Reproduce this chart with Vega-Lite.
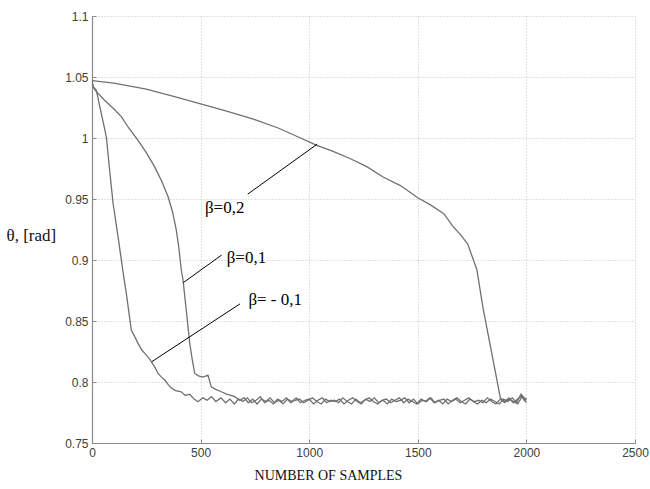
{
  "$schema": "https://vega.github.io/schema/vega-lite/v6.json",
  "autosize": "none",
  "width": 543,
  "height": 427,
  "padding": {"left": 92, "top": 16, "right": 15, "bottom": 46},
  "background": "white",
  "config": {
    "view": {"stroke": null},
    "axis": {
      "labelFont": "Liberation Sans",
      "labelFontSize": 12,
      "labelColor": "#404040",
      "labelFlush": false,
      "domainColor": "#8a8a8a",
      "domainWidth": 1.2,
      "tickColor": "#8a8a8a",
      "gridColor": "#c4c4c4",
      "gridDash": [1, 2],
      "gridWidth": 1,
      "titleFont": "Liberation Serif",
      "titleFontWeight": "normal",
      "titleColor": "#111111"
    }
  },
  "datasets": {
    "curves": [
      {"s": "b02", "x": 0, "y": 1.047},
      {"s": "b02", "x": 100, "y": 1.045},
      {"s": "b02", "x": 250, "y": 1.040},
      {"s": "b02", "x": 380, "y": 1.034},
      {"s": "b02", "x": 500, "y": 1.028},
      {"s": "b02", "x": 620, "y": 1.022},
      {"s": "b02", "x": 750, "y": 1.015},
      {"s": "b02", "x": 860, "y": 1.008},
      {"s": "b02", "x": 960, "y": 1.000},
      {"s": "b02", "x": 1035, "y": 0.994},
      {"s": "b02", "x": 1110, "y": 0.989},
      {"s": "b02", "x": 1190, "y": 0.983},
      {"s": "b02", "x": 1265, "y": 0.9765},
      {"s": "b02", "x": 1340, "y": 0.968},
      {"s": "b02", "x": 1420, "y": 0.961},
      {"s": "b02", "x": 1500, "y": 0.951},
      {"s": "b02", "x": 1560, "y": 0.945},
      {"s": "b02", "x": 1620, "y": 0.938},
      {"s": "b02", "x": 1660, "y": 0.928},
      {"s": "b02", "x": 1700, "y": 0.920},
      {"s": "b02", "x": 1730, "y": 0.913},
      {"s": "b02", "x": 1772, "y": 0.892},
      {"s": "b02", "x": 1800, "y": 0.861},
      {"s": "b02", "x": 1840, "y": 0.824},
      {"s": "b02", "x": 1880, "y": 0.787},
      {"s": "b02", "x": 1900, "y": 0.784},
      {"s": "b02", "x": 1920, "y": 0.787},
      {"s": "b02", "x": 1940, "y": 0.783},
      {"s": "b02", "x": 1960, "y": 0.786},
      {"s": "b02", "x": 1980, "y": 0.789},
      {"s": "b02", "x": 2000, "y": 0.785},

      {"s": "b01", "x": 0, "y": 1.047},
      {"s": "b01", "x": 5, "y": 1.042},
      {"s": "b01", "x": 15, "y": 1.039},
      {"s": "b01", "x": 58, "y": 1.031},
      {"s": "b01", "x": 100, "y": 1.024},
      {"s": "b01", "x": 135, "y": 1.0175},
      {"s": "b01", "x": 170, "y": 1.008},
      {"s": "b01", "x": 212, "y": 0.998},
      {"s": "b01", "x": 250, "y": 0.988},
      {"s": "b01", "x": 288, "y": 0.9765},
      {"s": "b01", "x": 320, "y": 0.965},
      {"s": "b01", "x": 350, "y": 0.952},
      {"s": "b01", "x": 370, "y": 0.940},
      {"s": "b01", "x": 388, "y": 0.9246},
      {"s": "b01", "x": 400, "y": 0.910},
      {"s": "b01", "x": 411, "y": 0.892},
      {"s": "b01", "x": 419, "y": 0.8836},
      {"s": "b01", "x": 434, "y": 0.859},
      {"s": "b01", "x": 450, "y": 0.8317},
      {"s": "b01", "x": 462, "y": 0.818},
      {"s": "b01", "x": 473, "y": 0.807},
      {"s": "b01", "x": 490, "y": 0.805},
      {"s": "b01", "x": 511, "y": 0.804},
      {"s": "b01", "x": 534, "y": 0.8057},
      {"s": "b01", "x": 549, "y": 0.796},
      {"s": "b01", "x": 570, "y": 0.794},
      {"s": "b01", "x": 595, "y": 0.792},
      {"s": "b01", "x": 620, "y": 0.790},
      {"s": "b01", "x": 657, "y": 0.788},
      {"s": "b01", "x": 680, "y": 0.785},
      {"s": "b01", "x": 700, "y": 0.787},
      {"s": "b01", "x": 720, "y": 0.783},
      {"s": "b01", "x": 740, "y": 0.786},
      {"s": "b01", "x": 760, "y": 0.782},
      {"s": "b01", "x": 780, "y": 0.786},
      {"s": "b01", "x": 800, "y": 0.784},
      {"s": "b01", "x": 820, "y": 0.787},
      {"s": "b01", "x": 840, "y": 0.783},
      {"s": "b01", "x": 860, "y": 0.785},
      {"s": "b01", "x": 880, "y": 0.782},
      {"s": "b01", "x": 900, "y": 0.786},
      {"s": "b01", "x": 920, "y": 0.784},
      {"s": "b01", "x": 940, "y": 0.787},
      {"s": "b01", "x": 960, "y": 0.783},
      {"s": "b01", "x": 980, "y": 0.785},
      {"s": "b01", "x": 1000, "y": 0.786},
      {"s": "b01", "x": 1020, "y": 0.782},
      {"s": "b01", "x": 1040, "y": 0.785},
      {"s": "b01", "x": 1060, "y": 0.787},
      {"s": "b01", "x": 1080, "y": 0.783},
      {"s": "b01", "x": 1100, "y": 0.785},
      {"s": "b01", "x": 1120, "y": 0.784},
      {"s": "b01", "x": 1140, "y": 0.786},
      {"s": "b01", "x": 1160, "y": 0.782},
      {"s": "b01", "x": 1180, "y": 0.785},
      {"s": "b01", "x": 1200, "y": 0.787},
      {"s": "b01", "x": 1220, "y": 0.784},
      {"s": "b01", "x": 1240, "y": 0.782},
      {"s": "b01", "x": 1260, "y": 0.786},
      {"s": "b01", "x": 1280, "y": 0.784},
      {"s": "b01", "x": 1300, "y": 0.787},
      {"s": "b01", "x": 1320, "y": 0.783},
      {"s": "b01", "x": 1340, "y": 0.785},
      {"s": "b01", "x": 1360, "y": 0.782},
      {"s": "b01", "x": 1380, "y": 0.786},
      {"s": "b01", "x": 1400, "y": 0.784},
      {"s": "b01", "x": 1420, "y": 0.785},
      {"s": "b01", "x": 1440, "y": 0.787},
      {"s": "b01", "x": 1460, "y": 0.783},
      {"s": "b01", "x": 1480, "y": 0.786},
      {"s": "b01", "x": 1500, "y": 0.782},
      {"s": "b01", "x": 1520, "y": 0.785},
      {"s": "b01", "x": 1540, "y": 0.784},
      {"s": "b01", "x": 1560, "y": 0.787},
      {"s": "b01", "x": 1580, "y": 0.783},
      {"s": "b01", "x": 1600, "y": 0.785},
      {"s": "b01", "x": 1620, "y": 0.786},
      {"s": "b01", "x": 1640, "y": 0.782},
      {"s": "b01", "x": 1660, "y": 0.785},
      {"s": "b01", "x": 1680, "y": 0.787},
      {"s": "b01", "x": 1700, "y": 0.784},
      {"s": "b01", "x": 1720, "y": 0.782},
      {"s": "b01", "x": 1740, "y": 0.786},
      {"s": "b01", "x": 1760, "y": 0.784},
      {"s": "b01", "x": 1780, "y": 0.785},
      {"s": "b01", "x": 1800, "y": 0.783},
      {"s": "b01", "x": 1820, "y": 0.787},
      {"s": "b01", "x": 1840, "y": 0.784},
      {"s": "b01", "x": 1860, "y": 0.782},
      {"s": "b01", "x": 1880, "y": 0.786},
      {"s": "b01", "x": 1900, "y": 0.783},
      {"s": "b01", "x": 1920, "y": 0.786},
      {"s": "b01", "x": 1940, "y": 0.784},
      {"s": "b01", "x": 1960, "y": 0.782},
      {"s": "b01", "x": 1980, "y": 0.788},
      {"s": "b01", "x": 2000, "y": 0.783},

      {"s": "bm01", "x": 0, "y": 1.047},
      {"s": "bm01", "x": 5, "y": 1.042},
      {"s": "bm01", "x": 20, "y": 1.039},
      {"s": "bm01", "x": 43, "y": 1.020},
      {"s": "bm01", "x": 66, "y": 1.001},
      {"s": "bm01", "x": 81, "y": 0.974},
      {"s": "bm01", "x": 97, "y": 0.9465},
      {"s": "bm01", "x": 120, "y": 0.919},
      {"s": "bm01", "x": 143, "y": 0.890},
      {"s": "bm01", "x": 158, "y": 0.8727},
      {"s": "bm01", "x": 181, "y": 0.8426},
      {"s": "bm01", "x": 200, "y": 0.836},
      {"s": "bm01", "x": 212, "y": 0.8317},
      {"s": "bm01", "x": 230, "y": 0.826},
      {"s": "bm01", "x": 243, "y": 0.8235},
      {"s": "bm01", "x": 260, "y": 0.820},
      {"s": "bm01", "x": 273, "y": 0.8166},
      {"s": "bm01", "x": 290, "y": 0.812},
      {"s": "bm01", "x": 304, "y": 0.807},
      {"s": "bm01", "x": 320, "y": 0.804},
      {"s": "bm01", "x": 335, "y": 0.8016},
      {"s": "bm01", "x": 350, "y": 0.798},
      {"s": "bm01", "x": 365, "y": 0.795},
      {"s": "bm01", "x": 385, "y": 0.793},
      {"s": "bm01", "x": 411, "y": 0.792},
      {"s": "bm01", "x": 430, "y": 0.789},
      {"s": "bm01", "x": 450, "y": 0.790},
      {"s": "bm01", "x": 470, "y": 0.786},
      {"s": "bm01", "x": 488, "y": 0.7838},
      {"s": "bm01", "x": 510, "y": 0.787},
      {"s": "bm01", "x": 530, "y": 0.785},
      {"s": "bm01", "x": 550, "y": 0.788},
      {"s": "bm01", "x": 570, "y": 0.784},
      {"s": "bm01", "x": 594, "y": 0.787},
      {"s": "bm01", "x": 615, "y": 0.783},
      {"s": "bm01", "x": 635, "y": 0.786},
      {"s": "bm01", "x": 655, "y": 0.782},
      {"s": "bm01", "x": 675, "y": 0.786},
      {"s": "bm01", "x": 695, "y": 0.784},
      {"s": "bm01", "x": 715, "y": 0.787},
      {"s": "bm01", "x": 735, "y": 0.783},
      {"s": "bm01", "x": 755, "y": 0.785},
      {"s": "bm01", "x": 775, "y": 0.788},
      {"s": "bm01", "x": 795, "y": 0.783},
      {"s": "bm01", "x": 815, "y": 0.785},
      {"s": "bm01", "x": 835, "y": 0.782},
      {"s": "bm01", "x": 855, "y": 0.786},
      {"s": "bm01", "x": 875, "y": 0.784},
      {"s": "bm01", "x": 895, "y": 0.787},
      {"s": "bm01", "x": 915, "y": 0.783},
      {"s": "bm01", "x": 935, "y": 0.785},
      {"s": "bm01", "x": 955, "y": 0.786},
      {"s": "bm01", "x": 975, "y": 0.783},
      {"s": "bm01", "x": 995, "y": 0.785},
      {"s": "bm01", "x": 1015, "y": 0.787},
      {"s": "bm01", "x": 1035, "y": 0.784},
      {"s": "bm01", "x": 1055, "y": 0.782},
      {"s": "bm01", "x": 1075, "y": 0.786},
      {"s": "bm01", "x": 1095, "y": 0.784},
      {"s": "bm01", "x": 1115, "y": 0.785},
      {"s": "bm01", "x": 1135, "y": 0.783},
      {"s": "bm01", "x": 1155, "y": 0.787},
      {"s": "bm01", "x": 1175, "y": 0.784},
      {"s": "bm01", "x": 1195, "y": 0.782},
      {"s": "bm01", "x": 1215, "y": 0.786},
      {"s": "bm01", "x": 1235, "y": 0.783},
      {"s": "bm01", "x": 1255, "y": 0.785},
      {"s": "bm01", "x": 1275, "y": 0.787},
      {"s": "bm01", "x": 1295, "y": 0.784},
      {"s": "bm01", "x": 1315, "y": 0.782},
      {"s": "bm01", "x": 1335, "y": 0.785},
      {"s": "bm01", "x": 1355, "y": 0.786},
      {"s": "bm01", "x": 1375, "y": 0.783},
      {"s": "bm01", "x": 1395, "y": 0.785},
      {"s": "bm01", "x": 1415, "y": 0.787},
      {"s": "bm01", "x": 1435, "y": 0.783},
      {"s": "bm01", "x": 1455, "y": 0.786},
      {"s": "bm01", "x": 1475, "y": 0.784},
      {"s": "bm01", "x": 1495, "y": 0.782},
      {"s": "bm01", "x": 1515, "y": 0.786},
      {"s": "bm01", "x": 1535, "y": 0.784},
      {"s": "bm01", "x": 1555, "y": 0.787},
      {"s": "bm01", "x": 1575, "y": 0.783},
      {"s": "bm01", "x": 1595, "y": 0.785},
      {"s": "bm01", "x": 1615, "y": 0.782},
      {"s": "bm01", "x": 1635, "y": 0.786},
      {"s": "bm01", "x": 1655, "y": 0.784},
      {"s": "bm01", "x": 1675, "y": 0.786},
      {"s": "bm01", "x": 1695, "y": 0.783},
      {"s": "bm01", "x": 1715, "y": 0.785},
      {"s": "bm01", "x": 1735, "y": 0.787},
      {"s": "bm01", "x": 1755, "y": 0.784},
      {"s": "bm01", "x": 1775, "y": 0.782},
      {"s": "bm01", "x": 1795, "y": 0.785},
      {"s": "bm01", "x": 1815, "y": 0.783},
      {"s": "bm01", "x": 1835, "y": 0.786},
      {"s": "bm01", "x": 1855, "y": 0.784},
      {"s": "bm01", "x": 1875, "y": 0.782},
      {"s": "bm01", "x": 1895, "y": 0.786},
      {"s": "bm01", "x": 1915, "y": 0.784},
      {"s": "bm01", "x": 1935, "y": 0.787},
      {"s": "bm01", "x": 1955, "y": 0.783},
      {"s": "bm01", "x": 1975, "y": 0.790},
      {"s": "bm01", "x": 1990, "y": 0.785},
      {"s": "bm01", "x": 2000, "y": 0.787}
    ],
    "leaders": [
      {"x": 1037, "y": 0.995, "x2": 717, "y2": 0.954},
      {"x": 420, "y": 0.8814, "x2": 597, "y2": 0.9041},
      {"x": 275, "y": 0.8166, "x2": 681, "y2": 0.864}
    ],
    "labels": [
      {"x": 520, "y": 0.9426, "t": "β=0,2"},
      {"x": 620, "y": 0.9016, "t": "β=0,1"},
      {"x": 720, "y": 0.8672, "t": "β= - 0,1"}
    ]
  },
  "layer": [
    {
      "data": {"name": "curves"},
      "mark": {"type": "line", "color": "#707070", "strokeWidth": 1.3, "clip": true},
      "encoding": {
        "x": {
          "field": "x", "type": "quantitative",
          "scale": {"domain": [0, 2500], "nice": false, "zero": false},
          "axis": {
            "values": [0, 500, 1000, 1500, 2000, 2500],
            "format": "d",
            "tickSize": -4,
            "labelPadding": 8,
            "title": "NUMBER OF SAMPLES",
            "titleFontSize": 14,
            "titleX": 236,
            "titleY": 32,
            "titleBaseline": "middle",
            "titleAlign": "center"
          }
        },
        "y": {
          "field": "y", "type": "quantitative",
          "scale": {"domain": [0.75, 1.1], "nice": false, "zero": false},
          "axis": {
            "values": [0.75, 0.8, 0.85, 0.9, 0.95, 1, 1.05, 1.1],
            "format": "~g",
            "tickSize": -4,
            "labelPadding": 8,
            "title": "θ, [rad]",
            "titleFontSize": 17,
            "titleAngle": 0,
            "titleAlign": "left",
            "titleBaseline": "middle",
            "titleX": -86,
            "titleY": 219
          }
        },
        "detail": {"field": "s"}
      }
    },
    {
      "data": {"name": "leaders"},
      "mark": {"type": "rule", "color": "#000000", "strokeWidth": 1},
      "encoding": {
        "x": {"field": "x", "type": "quantitative"},
        "y": {"field": "y", "type": "quantitative"},
        "x2": {"field": "x2"},
        "y2": {"field": "y2"}
      }
    },
    {
      "data": {"name": "labels"},
      "mark": {"type": "text", "font": "Liberation Serif", "fontSize": 17, "align": "left", "baseline": "middle", "color": "#000000"},
      "encoding": {
        "x": {"field": "x", "type": "quantitative"},
        "y": {"field": "y", "type": "quantitative"},
        "text": {"field": "t"}
      }
    }
  ]
}
